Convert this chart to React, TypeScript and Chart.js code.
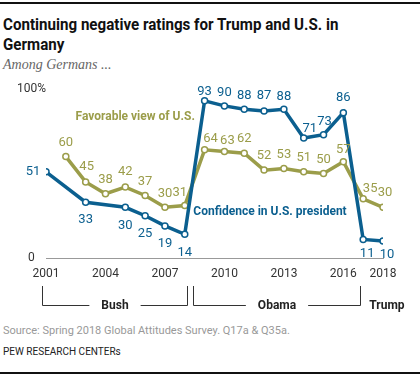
import React, { useEffect, useRef } from "react";
import { Chart, registerables } from "chart.js";

Chart.register(...registerables);

const confYears = [2001, 2003, 2005, 2006, 2007, 2008, 2009, 2010, 2011, 2012, 2013, 2014, 2015, 2016, 2017, 2018];
const confValues = [51, 33, 30, 25, 19, 14, 93, 90, 88, 87, 88, 71, 73, 86, 11, 10];
const favYears = [2002, 2003, 2004, 2005, 2006, 2007, 2008, 2009, 2010, 2011, 2012, 2013, 2014, 2015, 2016, 2017, 2018];
const favValues = [60, 45, 38, 42, 37, 30, 31, 64, 63, 62, 52, 53, 51, 50, 57, 35, 30];
const xTicks = [2001, 2004, 2007, 2010, 2013, 2016, 2018];
const yTicks = [0, 100];
const presidents = [
  { name: "Bush", from: 2000.8, to: 2008.1 },
  { name: "Obama", from: 2008.4, to: 2016.85 },
];
const trumpLabel = { name: "Trump", at: 2018.2 };

const BLUE = "#0b5f8f";
const OLIVE = "#9b9d4a";

// label offsets [dx, dy] in pixels relative to point
const confOffsets = [[-13, 0], [0, 18], [0, 18], [0, 18], [0, 18], [0, 18], [0, -9], [0, -13], [0, -14], [0, -15], [0, -13], [6, -9], [1, -13], [0, -15], [4, 14], [4, 14]];
const favOffsets = [[0, -14], [1, -15], [0, -14], [0, -15], [0, -14], [0, -14], [-5, -13], [6, -11], [3, -11], [0, -14], [0, -14], [0, -14], [0, -14], [0, -14], [0, -12], [7, -10], [2, -15]];

const FONT = "Roboto, 'Noto Sans', sans-serif";

const labelPlugin = {
  id: "customLabels",
  afterDatasetsDraw(chart: any) {
    const ctx = chart.ctx;
    const xs = chart.scales.x;
    const ys = chart.scales.y;
    ctx.save();
    ctx.textAlign = "center";
    ctx.textBaseline = "middle";
    ctx.font = `13px ${FONT}`;
    const offs = [confOffsets, favOffsets];
    const cols = [BLUE, OLIVE];
    chart.data.datasets.forEach((ds: any, i: number) => {
      const meta = chart.getDatasetMeta(i);
      ctx.fillStyle = cols[i];
      meta.data.forEach((pt: any, j: number) => {
        const o = offs[i][j];
        ctx.fillText(String(ds.data[j].y), pt.x + o[0], pt.y + o[1]);
      });
    });
    // series names
    ctx.font = `bold 12px ${FONT}`;
    ctx.fillStyle = OLIVE;
    ctx.fillText("Favorable view of U.S.", xs.getPixelForValue(2005.5), ys.getPixelForValue(83.5));
    ctx.fillStyle = BLUE;
    ctx.fillText("Confidence in U.S. president", xs.getPixelForValue(2012.3), ys.getPixelForValue(27));

    // brackets
    const yTop = chart.chartArea.bottom + 28;
    const yLine = chart.chartArea.bottom + 47;
    ctx.strokeStyle = "#333";
    ctx.lineWidth = 1;
    ctx.fillStyle = "#222";
    ctx.font = `bold 12px ${FONT}`;
    presidents.forEach((p) => {
      const a = Math.round(xs.getPixelForValue(p.from)) + 0.5;
      const b = Math.round(xs.getPixelForValue(p.to)) + 0.5;
      const mid = (a + b) / 2;
      const w = ctx.measureText(p.name).width;
      ctx.beginPath();
      ctx.moveTo(a, yTop);
      ctx.lineTo(a, yLine + 0.5);
      ctx.lineTo(mid - w / 2 - 12, yLine + 0.5);
      ctx.moveTo(mid + w / 2 + 12, yLine + 0.5);
      ctx.lineTo(b, yLine + 0.5);
      ctx.lineTo(b, yTop);
      ctx.stroke();
      ctx.fillText(p.name, mid, yLine + 1);
    });
    ctx.fillText(trumpLabel.name, xs.getPixelForValue(trumpLabel.at), yLine + 1);
    ctx.restore();
  },
};

export default function App() {
  const ref = useRef<HTMLCanvasElement>(null);
  useEffect(() => {
    if (!ref.current) return;
    const chart = new Chart(ref.current, {
      type: "line",
      data: {
        datasets: [
          {
            label: "Confidence in U.S. president",
            data: confYears.map((x, i) => ({ x, y: confValues[i] })),
            borderColor: BLUE,
            borderWidth: 3.5,
            pointRadius: 3,
            pointBackgroundColor: "#fff",
            pointBorderColor: BLUE,
            pointBorderWidth: 1.5,
            tension: 0,
          },
          {
            label: "Favorable view of U.S.",
            data: favYears.map((x, i) => ({ x, y: favValues[i] })),
            borderColor: OLIVE,
            borderWidth: 3.5,
            pointRadius: 3,
            pointBackgroundColor: "#fff",
            pointBorderColor: OLIVE,
            pointBorderWidth: 1.5,
            tension: 0,
          },
        ],
      },
      options: {
        animation: false,
        responsive: false,
        events: [],
        layout: { padding: { left: 8, right: 37, top: 9, bottom: 0 } },
        plugins: { legend: { display: false }, tooltip: { enabled: false }, title: { display: false } },
        scales: {
          x: {
            type: "linear",
            min: 2001,
            max: 2018,
            grid: { display: false, drawTicks: false },
            border: { display: true, color: "#999", width: 1 },
            afterBuildTicks: (s: any) => {
              s.ticks = xTicks.map((v) => ({ value: v }));
            },
            afterFit: (s: any) => {
              s.height = 62;
            },
            ticks: {
              autoSkip: false,
              maxRotation: 0,
              padding: 9,
              color: "#333",
              font: { family: FONT, size: 12 },
              callback: (v: any) => String(v),
            },
          },
          y: {
            min: 0,
            max: 100,
            grid: { display: false, drawTicks: false },
            border: { display: false },
            afterBuildTicks: (s: any) => {
              s.ticks = yTicks.map((v) => ({ value: v }));
            },
            afterFit: (s: any) => {
              s.width = 38;
            },
            ticks: {
              padding: 0,
              crossAlign: "center",
              color: "#333",
              font: { family: FONT, size: 12 },
              callback: (v: any) => (v === 100 ? "100%" : String(v)),
            },
          },
        },
      },
      plugins: [labelPlugin],
    });
    return () => chart.destroy();
  }, []);

  return (
    <div style={{ position: "fixed", left: 0, top: 0, width: 420, height: 375, background: "#fff", overflow: "hidden" }}>
      <div style={{ position: "absolute", left: 0, top: 2, width: 420, height: 1.5, background: "#111" }} />
      <div
        style={{
          position: "absolute",
          left: 3,
          top: 14,
          whiteSpace: "nowrap",
          fontFamily: FONT,
          fontWeight: 700,
          fontSize: 17,
          lineHeight: "20px",
          color: "#111",
          transformOrigin: "left top",
          transform: "scaleX(0.89)",
        }}
      >
        Continuing negative ratings for Trump and U.S. in
        <br />
        Germany
      </div>
      <div
        style={{
          position: "absolute",
          left: 3,
          top: 57,
          fontFamily: "'Liberation Serif', serif",
          fontStyle: "italic",
          fontSize: 14,
          color: "#666",
        }}
      >
        Among Germans ...
      </div>
      <canvas ref={ref} width={420} height={240} style={{ position: "absolute", left: 0, top: 80, width: 420, height: 240 }} />
      <div style={{ position: "absolute", left: 3, top: 324, fontFamily: FONT, fontSize: 11, color: "#999", whiteSpace: "nowrap" }}>
        Source: Spring 2018 Global Attitudes Survey. Q17a &amp; Q35a.
      </div>
      <div style={{ position: "absolute", left: 3, top: 346, fontFamily: FONT, fontSize: 10, color: "#222", whiteSpace: "nowrap" }}>
        PEW RESEARCH CENTERs
      </div>
      <div style={{ position: "absolute", left: 0, top: 372, width: 420, height: 1.5, background: "#111" }} />
    </div>
  );
}
